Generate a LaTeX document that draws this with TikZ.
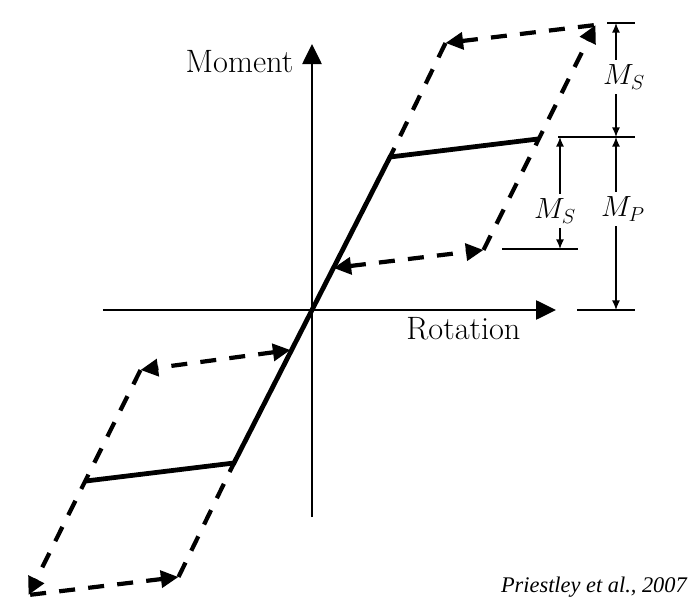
\documentclass[tikz,border=0pt]{standalone}
\usepackage{fontspec}
\newfontfamily\creditfont{Liberation Serif}
\usepackage{tikz}
\usetikzlibrary{arrows.meta,calc}

\tikzset{
  looptip/.tip={Triangle[length=4.4mm,width=4.2mm]},
  axistip/.tip={Triangle[length=5mm,width=4.8mm]},
  dimtip/.tip={Latex[length=2.4mm,width=2mm]},
  axis/.style={line width=1.4pt,-axistip},
  solidline/.style={line width=3.4pt,line join=miter},
  dashline/.style={line width=3pt,dash pattern=on 0.4cm off 0.33cm},
  tickline/.style={line width=0.9pt},
  dimline/.style={line width=0.9pt,dimtip-dimtip},
  axlabel/.style={font=\fontsize{23}{27}\selectfont,inner sep=0pt},
  dimlabel/.style={font=\fontsize{21.5}{24}\selectfont,fill=white,inner xsep=1pt,inner ysep=0.12cm},
  credit/.style={font=\creditfont\fontsize{15.9}{18}\selectfont\itshape,inner sep=0pt}
}

\begin{document}
\begin{tikzpicture}[x=0.025cm,y=0.025cm]
  \useasboundingbox (-312,-300) rectangle (376,310);

  % axes
  \coordinate (O) at (0,0);
  \coordinate (xstart) at (-209,0);
  \coordinate (xend) at (244,0);
  \coordinate (ystart) at (0,-207);
  \coordinate (yend) at (0,266);
  \draw[axis] (xstart) -- (xend);
  \draw[axis] (ystart) -- (yend);
  \node[axlabel] (moment) at (-72.5,248) {Moment};
  \node[axlabel] (rotation) at (151.5,-19) {Rotation};

  % backbone
  \coordinate (Y1) at (78,153);
  \coordinate (Y2) at (-78,-153);
  \coordinate (P1) at (226,171);
  \coordinate (P2) at (-226,-171);
  \draw[solidline] (P2) -- (Y2) -- (O) -- (Y1) -- (P1);

  % upper loop
  \coordinate (upBL) at (21.5,42);
  \coordinate (upBR) at (171.5,60);
  \coordinate (upTR) at (283.5,285);
  \coordinate (upTL) at (133.5,267);
  \draw[dashline,looptip-looptip] (upBL) -- (upBR);
  \draw[dashline,-looptip] (upBR) -- (upTR);
  \draw[dashline,looptip-] (upTL) -- (upTR);
  \draw[dashline] (upTL) -- (Y1);

  % lower loop
  \coordinate (loTR) at (-21.5,-40);
  \coordinate (loTL) at (-171.5,-60);
  \coordinate (loBL) at (-283.5,-285);
  \coordinate (loBR) at (-133.5,-267);
  \draw[dashline,looptip-looptip] (loTR) -- (loTL);
  \draw[dashline,-looptip] (loTL) -- (loBL);
  \draw[dashline,looptip-] (loBR) -- (loBL);
  \draw[dashline] (loBR) -- (Y2);

  % dimensions
  \coordinate (topA) at (295,287);   \coordinate (topB) at (323,287);
  \coordinate (plA) at (246,173);    \coordinate (plB) at (323,173);
  \coordinate (lowA) at (190,61);    \coordinate (lowB) at (266,61);
  \coordinate (zeroA) at (265,0);    \coordinate (zeroB) at (323,0);
  \draw[tickline] (topA) -- (topB);
  \draw[tickline] (plA) -- (plB);
  \draw[tickline] (lowA) -- (lowB);
  \draw[tickline] (zeroA) -- (zeroB);

  \coordinate (out1) at (304,287);
  \coordinate (out2) at (304,173);
  \coordinate (out3) at (304,0);
  \coordinate (in1) at (248,173);
  \coordinate (in2) at (248,61);
  \draw[dimline] (out1) -- (out2);
  \draw[dimline] (out2) -- (out3);
  \draw[dimline] (in1) -- (in2);
  \node[dimlabel] (msout) at (312,233) {$M_S$};
  \node[dimlabel] (mp) at (311,101) {$M_P$};
  \node[dimlabel] (msin) at (243,99) {$M_S$};

  \node[credit,anchor=east] (src) at (375,-277) {Priestley et al., 2007};
\end{tikzpicture}
\end{document}
